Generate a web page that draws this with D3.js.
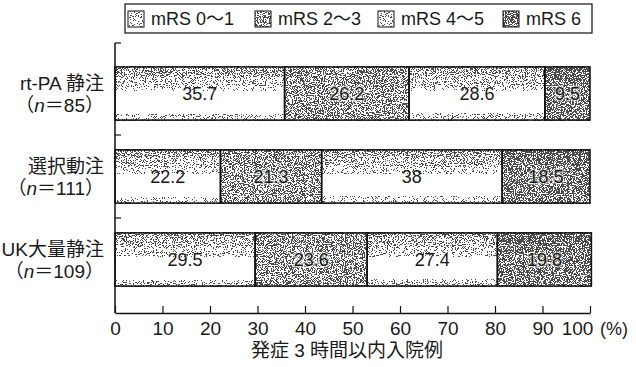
<!DOCTYPE html>
<html>
<head>
<meta charset="utf-8">
<script src="https://cdn.jsdelivr.net/npm/d3@7"></script>
<style>
  html, body { margin: 0; padding: 0; background: #fff; }
  svg { display: block; }
  text { font-family: "Liberation Sans", Arial, "Noto Sans CJK JP", sans-serif; fill: #1a1a1a; }
  .jp { font-family: "Liberation Sans", "Noto Sans CJK JP", sans-serif; }
</style>
</head>
<body>
<svg id="chart" width="636" height="367"></svg>
<script>
// Outcome at discharge by treatment group (patients admitted within 3 h of onset)
const groups = ["rt-PA 静注", "選択動注", "UK大量静注"];
const groupN = [85, 111, 109];
const seriesNames = ["mRS 0〜1", "mRS 2〜3", "mRS 4〜5", "mRS 6"];
const mrs01 = [35.7, 22.2, 29.5];
const mrs23 = [26.2, 21.3, 23.6];
const mrs45 = [28.6, 38, 27.4];
const mrs6  = [9.5, 18.5, 19.8];
const xTicks = [0, 10, 20, 30, 40, 50, 60, 70, 80, 90, 100];
const xTitle = "発症 3 時間以内入院例";

const rows = groups.map((g, i) => ({
  group: g,
  "mRS 0〜1": mrs01[i], "mRS 2〜3": mrs23[i], "mRS 4〜5": mrs45[i], "mRS 6": mrs6[i]
}));
const stacked = d3.stack().keys(seriesNames)(rows);

const svg = d3.select("#chart");
const x = d3.scaleLinear().domain([0, 100]).range([115, 590]);
const y = d3.scaleBand().domain(groups).range([52, 301]).paddingInner(0.36).paddingOuter(0.18);
const axisTop = 43, axisBottom = 313;

// ---- fills: a grey tone per category, rendered as a stippled screen ----
const defs = svg.append("defs");
const tones = {
  "mRS 0〜1": [["0%", "#8c8c8c"], ["18%", "#bcbcbc"], ["38%", "#f4f4f4"], ["46%", "#ffffff"], ["88%", "#ffffff"], ["100%", "#dadada"]],
  "mRS 2〜3": [["0%", "#7e7e7e"], ["50%", "#909090"], ["100%", "#868686"]],
  "mRS 4〜5": [["0%", "#8c8c8c"], ["18%", "#bcbcbc"], ["38%", "#f4f4f4"], ["46%", "#ffffff"], ["86%", "#ffffff"], ["100%", "#d2d2d2"]],
  "mRS 6":    [["0%", "#3c3c3c"], ["30%", "#5c5c5c"], ["100%", "#707070"]]
};
seriesNames.forEach((s, i) => {
  const g = defs.append("linearGradient").attr("id", "tone" + i)
    .attr("x1", 0).attr("y1", 0).attr("x2", 0).attr("y2", 1);
  tones[s].forEach(([o, c]) => g.append("stop").attr("offset", o).attr("stop-color", c));
});

// noise-threshold screen: a pixel turns dark where noise exceeds the tone's lightness
function stippleFilter(id, seed) {
  const f = defs.append("filter").attr("id", id)
    .attr("x", 0).attr("y", 0).attr("width", "100%").attr("height", "100%")
    .attr("color-interpolation-filters", "sRGB");
  f.append("feTurbulence").attr("type", "fractalNoise").attr("baseFrequency", 0.9)
    .attr("numOctaves", 2).attr("seed", seed).attr("result", "noise");
  f.append("feColorMatrix").attr("in", "noise").attr("type", "matrix")
    .attr("values", "1 0 0 0 0  1 0 0 0 0  1 0 0 0 0  0 0 0 0 1").attr("result", "grey");
  const st = f.append("feComponentTransfer").attr("in", "grey").attr("result", "spread");
  ["feFuncR", "feFuncG", "feFuncB"].forEach(c => st.append(c).attr("type", "linear").attr("slope", 4).attr("intercept", -1.5));
  st.append("feFuncA").attr("type", "linear").attr("slope", 0).attr("intercept", 1);
  f.append("feComposite").attr("in", "SourceGraphic").attr("in2", "spread").attr("operator", "arithmetic")
    .attr("k1", 0).attr("k2", 1).attr("k3", 1).attr("k4", -0.5).attr("result", "sum");
  const th = f.append("feComponentTransfer").attr("in", "sum");
  ["feFuncR", "feFuncG", "feFuncB"].forEach(c => th.append(c).attr("type", "discrete").attr("tableValues", "0.3 1"));
  th.append("feFuncA").attr("type", "linear").attr("slope", 0).attr("intercept", 1);
}
stippleFilter("stipple", 11);

// ---- bars ----
const barLayer = svg.append("g");
stacked.forEach((layer, i) => {
  barLayer.selectAll(null).data(layer).join("rect")
    .attr("x", d => x(d[0])).attr("y", d => y(d.data.group))
    .attr("width", d => x(d[1]) - x(d[0])).attr("height", y.bandwidth())
    .attr("fill", `url(#tone${i})`).attr("filter", "url(#stipple)");
});
stacked.forEach((layer, i) => {
  barLayer.selectAll(null).data(layer).join("rect")
    .attr("x", d => x(d[0])).attr("y", d => y(d.data.group))
    .attr("width", d => x(d[1]) - x(d[0])).attr("height", y.bandwidth())
    .attr("fill", "none").attr("stroke", "#111").attr("stroke-width", 1.5);
  barLayer.selectAll(null).data(layer).join("text")
    .attr("x", d => (x(d[0]) + x(d[1])) / 2).attr("y", d => y(d.data.group) + y.bandwidth() / 2)
    .attr("dy", "0.36em").attr("text-anchor", "middle").attr("font-size", 18)
    .attr("stroke", i % 2 ? "rgba(255,255,255,0.55)" : "none").attr("stroke-width", 3)
    .attr("paint-order", "stroke")
    .text(d => d.data[layer.key]);
});

// ---- y axis: frame line with short ticks between groups ----
const yAx = svg.append("g");
yAx.append("line").attr("x1", x(0)).attr("x2", x(0)).attr("y1", axisTop).attr("y2", axisBottom)
  .attr("stroke", "#111").attr("stroke-width", 1.5);
const gap = y.step() * y.paddingInner();
const yTickPos = [axisTop].concat(groups.slice(0, -1).map(g => y(g) + y.bandwidth() + gap / 2));
yAx.selectAll(null).data(yTickPos).join("line")
  .attr("x1", x(0)).attr("x2", x(0) + 6).attr("y1", d => d).attr("y2", d => d)
  .attr("stroke", "#111").attr("stroke-width", 1.2);

// group labels (two lines, right aligned)
groups.forEach((g, i) => {
  const cy = y(g) + y.bandwidth() / 2;
  svg.append("text").attr("class", "jp").attr("text-anchor", "end").attr("font-size", 19)
    .attr("x", 104).attr("y", cy - 4).text(g);
  const t2 = svg.append("text").attr("class", "jp").attr("text-anchor", "end").attr("font-size", 19)
    .attr("x", 104).attr("y", cy + 18);
  t2.append("tspan").text("（");
  t2.append("tspan").attr("font-style", "italic").text("n");
  t2.append("tspan").text("＝" + groupN[i] + "）");
});

// ---- x axis at bottom, ticks pointing up ----
const xAxis = d3.axisBottom(x).tickValues(xTicks).tickSizeInner(-7).tickSizeOuter(0).tickPadding(9);
const xg = svg.append("g").attr("transform", `translate(0,${axisBottom})`).call(xAxis);
xg.select(".domain").attr("stroke", "#111").attr("stroke-width", 1.5);
xg.selectAll(".tick line").attr("stroke", "#111").attr("stroke-width", 1.2);
xg.selectAll(".tick text").attr("font-size", 19).attr("font-family", "Liberation Sans, Arial, sans-serif")
  .attr("fill", "#1a1a1a").attr("dx", d => d === 100 ? -13 : 0);
svg.append("text").attr("x", 600).attr("y", axisBottom + 22).attr("font-size", 18).text("(%)");
svg.append("text").attr("class", "jp").attr("x", 347).attr("y", 357).attr("text-anchor", "middle")
  .attr("font-size", 19).text(xTitle);

// ---- legend ----
const legend = svg.append("g");
legend.append("rect").attr("x", 125).attr("y", 4).attr("width", 467).attr("height", 29)
  .attr("fill", "#fff").attr("stroke", "#111").attr("stroke-width", 1.2);
const legendTones = ["#f8f8f8", "#8a8a8a", "#f4f4f4", "#5a5a5a"];
const legendX = [128, 255, 378, 503];
seriesNames.forEach((s, i) => {
  const lg = legend.append("g").attr("transform", `translate(${legendX[i]},11)`);
  lg.append("rect").attr("width", 16).attr("height", 16)
    .attr("fill", legendTones[i]).attr("filter", "url(#stipple)");
  lg.append("rect").attr("width", 16).attr("height", 16).attr("fill", "none")
    .attr("stroke", "#111").attr("stroke-width", 1);
  lg.append("text").attr("class", "jp").attr("x", 23).attr("y", 8).attr("dy", "0.36em")
    .attr("font-size", 18).text(s);
});
</script>
</body>
</html>
